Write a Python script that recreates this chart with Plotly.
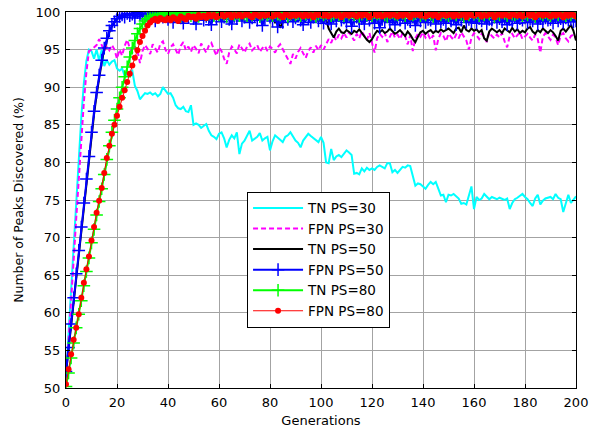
import plotly.graph_objects as go

generations = list(range(0, 201))

tn_ps30 = [
    51.5, 57.5, 63.5, 69.5, 75.5, 81.0, 86.0, 90.5, 93.5, 95.0,
    94.8, 93.8, 95.0, 93.5, 95.0, 92.8, 93.6, 93.0, 93.4, 93.6,
    92.5, 92.2, 92.5, 91.5, 91.8, 92.0, 92.2, 90.2, 89.5, 88.4,
    88.8, 89.2, 89.1, 89.3, 89.0, 89.2, 88.8, 89.1, 90.0, 89.6,
    89.1, 89.2, 88.6, 87.6, 87.2, 87.1, 87.4, 86.8, 86.7, 87.6,
    85.0, 85.2, 85.0, 84.6, 84.9, 85.1, 84.2, 83.6, 83.4, 83.1,
    83.8, 84.0, 83.2, 82.0, 83.0, 83.6, 83.2, 84.0, 81.1, 82.5,
    82.9, 83.6, 84.2, 82.9, 83.2, 83.4, 83.9, 82.9, 83.2, 83.4,
    81.6, 82.8, 83.6, 83.3, 83.1, 82.7, 83.4, 83.6, 84.0, 83.5,
    82.9, 82.6, 82.0, 82.9, 83.3, 83.8, 83.5, 83.2, 83.0, 82.7,
    83.4, 82.6, 80.0, 79.9, 81.8, 80.3, 80.8, 81.0, 80.7, 81.2,
    81.6, 81.3, 81.0, 78.5, 78.6, 78.4, 79.2, 78.8, 79.3, 79.0,
    79.2, 79.0, 79.4, 79.6, 79.4, 79.2, 79.9, 79.9, 78.7, 79.0,
    78.6, 79.0, 79.4, 79.3, 79.6, 79.5, 78.0, 76.9, 77.2, 77.1,
    76.8, 76.5, 77.0, 77.4, 77.1, 77.4, 76.5, 75.6, 75.7, 74.7,
    75.7, 75.6, 75.8, 75.5, 75.2, 74.5, 74.6, 74.4, 75.6, 76.8,
    73.8, 75.4, 75.0, 75.2, 75.8, 75.5, 75.1, 75.4, 75.2, 75.1,
    75.3, 75.1, 75.0, 75.2, 73.8, 74.6, 75.1, 75.3, 75.6, 75.8,
    75.4, 75.1, 74.6, 74.2, 75.2, 75.7, 74.4, 74.9, 75.2, 75.3,
    75.4, 75.1, 75.8, 75.3, 75.1, 73.4, 74.6, 75.7, 74.6, 75.1,
    75.5,
]

fpn_ps30 = [
    51.0, 56.0, 61.5, 67.0, 72.5, 78.0, 83.2, 88.0, 92.0, 94.8,
    95.0, 95.3, 95.6, 96.4, 95.6, 94.8, 95.4, 94.9, 95.6, 95.0,
    93.8, 95.0, 94.2, 95.5, 96.3, 95.2, 94.6, 95.4, 94.9, 93.2,
    94.8, 95.6, 95.1, 94.4, 95.7, 95.2, 94.6, 95.8, 96.1, 95.0,
    94.4, 95.3, 95.7, 95.0, 94.3, 95.5, 96.0, 94.9, 95.4, 94.7,
    95.6, 95.1, 94.5, 95.8, 95.2, 94.6, 95.5, 95.9, 95.0, 94.2,
    95.3, 94.8, 93.8, 93.1, 94.6, 95.4, 95.0, 94.5, 95.7, 95.2,
    94.6, 95.4, 95.8, 94.9, 95.3, 95.6, 94.7, 95.2, 95.5, 94.8,
    95.4, 95.1, 94.6, 95.3, 95.7, 95.0, 94.5, 93.6, 93.1, 94.4,
    93.8, 94.7, 95.2, 94.5, 93.9, 94.8, 95.3, 94.6, 95.5, 94.9,
    95.6, 95.0, 95.8, 96.4, 95.9, 96.8, 96.2, 97.0, 96.5, 97.2,
    96.6, 97.3, 96.8, 96.2, 97.1, 96.5, 97.4, 96.9, 96.3, 97.2,
    95.8, 94.6, 96.5, 97.1, 96.7, 97.3, 96.0, 96.8, 97.4, 96.6,
    97.0, 96.4, 97.2, 96.8, 95.7, 96.9, 94.8, 96.5, 97.1, 96.7,
    97.3, 96.6, 97.0, 96.3, 96.9, 94.9, 96.4, 97.2, 96.8, 96.1,
    97.1, 96.7, 96.3, 97.0, 96.5, 97.3, 96.8, 96.2, 95.0, 96.6,
    97.2, 96.9, 96.4, 97.1, 96.7, 96.0, 97.3, 96.8, 96.5, 97.0,
    96.6, 97.2, 96.1, 95.3, 96.8, 97.1, 96.5, 96.9, 97.3, 96.4,
    96.8, 97.1, 96.6, 96.2, 97.0, 96.4, 94.6, 96.7, 97.2, 96.8,
    96.3, 97.0, 96.6, 95.6, 96.9, 97.2, 96.5, 96.1, 96.8, 97.0,
    96.5,
]

tn_ps50 = [
    52.0, 55.2, 58.3, 61.7, 64.9, 68.0, 71.1, 74.3, 77.4, 80.5,
    83.6, 86.4, 89.0, 91.3, 93.3, 95.0, 96.3, 97.3, 98.1, 98.7,
    99.1, 99.3, 99.5, 99.6, 99.7, 99.6, 99.8, 99.7, 99.6, 99.8,
    99.7, 99.8, 99.6, 99.7, 99.9, 99.6, 99.8, 99.7, 99.5, 99.8,
    99.7, 99.6, 99.8, 99.7, 99.9, 99.6, 99.7, 99.8, 99.5, 99.7,
    99.8, 99.6, 99.7, 99.9, 99.7, 99.5, 99.8, 99.6, 99.7, 99.8,
    99.6, 99.7, 99.9, 99.6, 99.8, 99.7, 99.5, 99.8, 99.6, 99.7,
    99.8, 99.6, 99.7, 99.5, 99.8, 99.7, 99.6, 99.8, 99.4, 99.7,
    99.5, 99.2, 98.6, 98.9, 97.9, 98.7, 99.3, 99.6, 99.7, 99.5,
    99.8, 99.6, 99.7, 99.5, 99.8, 99.6, 99.7, 99.4, 99.6, 99.5,
    99.6, 99.3, 99.0, 97.8, 97.2, 96.6, 97.4, 97.8, 97.3, 97.2,
    97.6, 97.4, 97.1, 97.5, 97.3, 97.7, 97.2, 96.8, 96.3, 96.0,
    96.4, 97.0, 97.5, 97.3, 97.6, 97.2, 97.4, 97.8, 97.5, 97.1,
    97.3, 97.6, 97.2, 96.8, 97.4, 97.0, 96.4, 96.0, 96.7, 97.3,
    97.5, 97.1, 97.4, 97.6, 97.2, 97.5, 97.3, 97.7, 97.4, 97.6,
    97.8, 97.5, 97.2, 97.8, 97.9, 97.3, 98.2, 97.6, 97.4, 97.8,
    97.5, 97.7, 97.3, 97.6, 96.5, 96.2, 97.4, 97.8, 97.5, 97.3,
    97.6, 97.2, 97.8, 97.5, 97.3, 97.9, 97.4, 97.7, 97.2, 97.5,
    97.3, 97.8, 98.0, 97.4, 97.1, 97.6, 97.3, 97.8, 97.5, 97.2,
    97.6, 97.3, 96.8, 96.2, 97.5, 97.8, 97.4, 97.9, 98.3, 97.5,
    96.2,
]

fpn_ps50 = [
    52.2, 55.4, 58.5, 62.0, 65.2, 68.3, 71.4, 74.6, 77.8, 80.8,
    84.0, 86.8, 89.3, 91.6, 93.6, 95.2, 96.5, 97.5, 98.2, 98.7,
    99.1, 99.4, 99.6, 99.3, 99.8, 99.5, 99.7, 99.2, 99.9, 99.6,
    99.4, 99.8, 99.1, 99.6, 99.9, 98.8, 99.5, 99.7, 99.3, 99.8,
    99.0, 99.6, 98.6, 99.4, 99.7, 99.2, 98.5, 99.6, 99.3, 99.8,
    99.1, 98.4, 99.5, 99.7, 98.9, 99.4, 99.0, 98.3, 99.6, 99.2,
    99.5, 98.7, 99.3, 99.8, 99.0, 98.4, 99.4, 99.1, 99.6, 98.8,
    99.3, 99.7, 98.6, 99.2, 99.5, 98.9, 99.4, 98.2, 99.1, 99.6,
    99.3, 98.8, 99.5, 98.0, 99.2, 98.6, 99.4, 99.0, 99.6, 98.7,
    99.2, 99.5, 98.9, 98.3, 99.4, 99.1, 98.6, 99.3, 99.7, 98.8,
    99.2, 98.5, 99.4, 99.0, 98.4, 99.3, 98.8, 99.5, 98.9, 99.2,
    98.6, 99.4, 98.1, 99.0, 99.3, 98.7, 99.1, 98.4, 99.5, 98.9,
    99.2, 98.5, 99.3, 97.9, 99.0, 98.8, 99.4, 98.6, 99.1, 98.3,
    99.2, 98.9, 99.4, 98.5, 99.0, 98.7, 99.3, 98.2, 99.1, 98.8,
    99.4, 98.6, 99.0, 98.9, 99.3, 98.4, 99.2, 98.7, 99.0, 98.5,
    99.3, 98.8, 99.1, 98.3, 99.2, 98.9, 99.4, 98.6, 99.0, 98.7,
    99.3, 98.5, 99.1, 98.8, 99.2, 98.4, 99.0, 98.9, 99.3, 98.6,
    99.1, 98.7, 99.2, 98.3, 99.0, 98.8, 99.3, 98.5, 99.1, 98.9,
    99.2, 98.6, 99.0, 98.8, 99.3, 98.4, 99.1, 98.7, 99.2, 98.9,
    99.0, 98.5, 99.3, 98.8, 99.1, 98.6, 99.2, 98.9, 99.0, 98.7,
    98.8,
]

tn_ps80 = [
    50.2, 52.0, 54.0, 56.0, 58.0, 59.8, 61.6, 63.6, 65.5, 67.3,
    69.3, 71.1, 73.0, 74.8, 76.5, 78.4, 80.4, 82.2, 84.0, 85.6,
    87.1, 88.6, 90.0, 91.4, 92.7, 94.0, 95.2, 96.2, 97.1, 97.8,
    98.4, 98.8, 99.1, 99.3, 99.5, 99.7, 99.4, 99.8, 99.6, 99.9,
    99.5, 99.8, 99.6, 100.0, 99.7, 99.4, 99.9, 99.6, 99.8, 99.5,
    99.9, 99.7, 99.4, 99.8, 100.0, 99.6, 99.7, 99.9, 99.5, 99.8,
    99.6, 99.9, 99.7, 99.4, 99.8, 100.0, 99.6, 99.8, 99.5, 99.9,
    99.7, 99.5, 99.9, 99.6, 99.8, 100.0, 99.4, 99.7, 99.9, 99.6,
    99.8, 99.5, 99.9, 99.7, 99.6, 100.0, 99.8, 99.4, 99.7, 99.9,
    99.6, 99.8, 99.5, 100.0, 99.7, 99.9, 99.6, 99.8, 99.4, 99.7,
    99.9, 99.6, 99.8, 100.0, 99.5, 99.7, 99.9, 99.6, 99.8, 99.5,
    100.0, 99.7, 99.9, 99.6, 99.8, 99.4, 99.7, 100.0, 99.6, 99.8,
    99.5, 99.9, 99.7, 99.8, 100.0, 99.6, 99.4, 99.8, 99.9, 99.7,
    99.6, 100.0, 99.8, 99.5, 99.9, 99.7, 99.6, 99.8, 100.0, 99.5,
    99.8, 99.6, 99.9, 99.7, 99.4, 100.0, 99.8, 99.6, 99.9, 99.7,
    99.5, 99.8, 100.0, 99.6, 99.9, 99.7, 99.4, 99.8, 99.6, 100.0,
    99.7, 99.9, 99.5, 99.8, 99.6, 100.0, 99.7, 99.9, 99.4, 99.8,
    99.6, 100.0, 99.8, 99.5, 99.9, 99.7, 99.6, 99.8, 100.0, 99.5,
    99.8, 99.6, 99.9, 99.7, 99.4, 100.0, 99.8, 99.6, 99.9, 99.7,
    99.5, 99.8, 100.0, 99.6, 99.9, 99.7, 99.5, 99.8, 99.6, 99.9,
    99.7,
]

fpn_ps80 = [
    50.5, 52.5, 54.5, 56.4, 58.0, 59.8, 62.0, 64.0, 65.8, 67.5,
    69.6, 71.4, 73.3, 74.9, 76.6, 78.6, 80.6, 82.2, 83.8, 85.0,
    86.2, 87.4, 88.6, 89.6, 90.7, 91.8, 92.9, 93.9, 94.9, 96.0,
    96.8, 97.5, 98.2, 98.6, 98.9, 99.1, 98.8, 99.2, 99.0, 98.9,
    99.2, 98.9, 99.3, 99.1, 98.8, 99.4, 99.2, 99.0, 99.5, 99.3,
    99.4, 99.1, 99.6, 99.3, 99.5, 99.2, 99.7, 99.4, 99.6, 99.3,
    99.5, 99.7, 99.4, 99.6, 99.8, 99.3, 99.6, 99.5, 99.7, 99.4,
    99.6, 99.8, 99.5, 99.3, 99.7, 99.6, 99.4, 99.8, 99.5, 99.6,
    99.7, 99.4, 99.6, 99.8, 99.5, 99.3, 99.7, 99.6, 99.4, 99.8,
    99.5, 99.7, 99.6, 99.4, 99.8, 99.5, 99.6, 99.3, 99.7, 99.6,
    99.8, 99.5, 99.7, 99.4, 99.6, 99.8, 99.5, 99.7, 99.3, 99.6,
    99.7, 99.5, 99.8, 99.6, 99.4, 99.7, 99.5, 99.8, 99.6, 99.3,
    99.6, 99.8, 99.5, 99.7, 99.4, 99.6, 99.8, 99.5, 99.7, 99.6,
    99.4, 99.7, 99.5, 99.8, 99.6, 99.3, 99.7, 99.6, 99.8, 99.5,
    99.7, 99.4, 99.6, 99.8, 99.5, 99.7, 99.3, 99.6, 99.8, 99.5,
    99.6, 99.8, 99.4, 99.7, 99.5, 99.6, 99.8, 99.3, 99.7, 99.6,
    99.5, 99.7, 99.8, 99.4, 99.6, 99.5, 99.7, 99.8, 99.3, 99.6,
    99.8, 99.5, 99.7, 99.6, 99.4, 99.8, 99.6, 99.5, 99.7, 99.4,
    99.6, 99.8, 99.5, 99.7, 99.3, 99.6, 99.8, 99.5, 99.7, 99.6,
    99.4, 99.7, 99.5, 99.8, 99.6, 99.3, 99.7, 99.5, 99.8, 99.6,
    99.4,
]

x_ticks = [0, 20, 40, 60, 80, 100, 120, 140, 160, 180, 200]
y_ticks = [50, 55, 60, 65, 70, 75, 80, 85, 90, 95, 100]

FONT = "DejaVu Sans, Arial, sans-serif"

fig = go.Figure()
fig.add_trace(go.Scatter(x=generations, y=tn_ps30, name="TN PS=30", mode="lines",
                         line=dict(color="#00ffff", width=2)))
fig.add_trace(go.Scatter(x=generations, y=fpn_ps30, name="FPN PS=30", mode="lines",
                         line=dict(color="#ff00ff", width=2, dash="5px,3px")))
fig.add_trace(go.Scatter(x=generations, y=tn_ps50, name="TN PS=50", mode="lines",
                         line=dict(color="#000000", width=2)))
fig.add_trace(go.Scatter(x=generations, y=fpn_ps50, name="FPN PS=50", mode="lines+markers",
                         line=dict(color="#0000ff", width=2),
                         marker=dict(symbol="cross-thin", size=9,
                                     line=dict(color="#0000ff", width=1.5))))
fig.add_trace(go.Scatter(x=generations, y=tn_ps80, name="TN PS=80", mode="lines+markers",
                         line=dict(color="#00ff00", width=2),
                         marker=dict(symbol="cross-thin", size=9,
                                     line=dict(color="#00ff00", width=1.5))))
fig.add_trace(go.Scatter(x=generations, y=fpn_ps80, name="FPN PS=80", mode="lines+markers",
                         line=dict(color="#ff0000", width=1),
                         marker=dict(symbol="circle", size=6, color="#ff0000",
                                     line=dict(width=0))))

axis_common = dict(
    showline=True, linecolor="black", linewidth=1, mirror="ticks",
    ticks="inside", ticklen=4, tickcolor="black",
    showgrid=True, gridcolor="#a3a3a3", gridwidth=1,
    zeroline=False, automargin=False,
    tickfont=dict(family=FONT, size=13, color="black"),
)

fig.update_xaxes(range=[0, 200], tickvals=x_ticks, ticklabelstandoff=2,
                 title=dict(text="Generations", font=dict(family=FONT, size=13, color="black"),
                            standoff=7),
                 **axis_common)
fig.update_yaxes(range=[50, 100], tickvals=y_ticks, ticklabelstandoff=2,
                 title=dict(text="Number of Peaks Discovered (%)",
                            font=dict(family=FONT, size=12.5, color="black"), standoff=9),
                 **axis_common)

fig.update_layout(
    width=589, height=430,
    margin=dict(l=66, r=13, t=12, b=42, autoexpand=False),
    paper_bgcolor="white", plot_bgcolor="white",
    font=dict(family=FONT, size=13, color="black"),
    legend=dict(x=0.355, y=0.522, xanchor="left", yanchor="top",
                bgcolor="white", bordercolor="black", borderwidth=1,
                font=dict(family=FONT, size=13.5, color="black"),
                itemwidth=50, tracegroupgap=0),
    showlegend=True,
)

# Remove the browser's default 8px body margin so the figure fills the window exactly.
fig.write_html("out.html",
               config={"displayModeBar": False},
               post_script="document.body.style.margin='0';document.body.style.overflow='hidden';")
